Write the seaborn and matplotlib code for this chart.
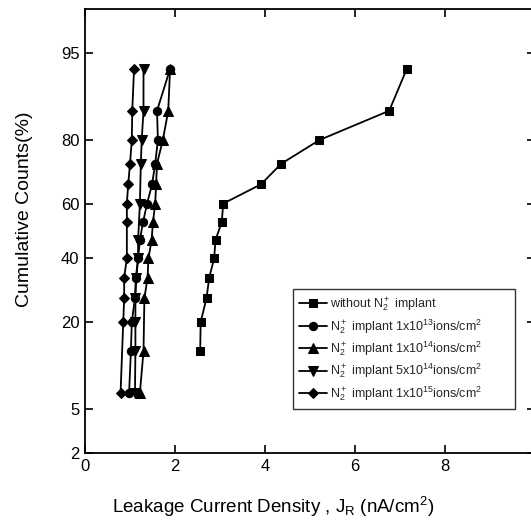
import numpy as np
import pandas as pd
import seaborn as sns
import matplotlib
matplotlib.use("Agg")
import matplotlib.pyplot as plt
from matplotlib.ticker import FixedLocator, FixedFormatter
from statistics import NormalDist

# ---------------- data ----------------
without_y = [93.3, 86.7, 80.0, 73.3, 66.7, 60.0, 53.3, 46.7, 40.0, 33.3, 26.7, 20.0, 13.3]
without_x = [7.15, 6.76, 5.21, 4.36, 3.91, 3.07, 3.04, 2.90, 2.87, 2.76, 2.70, 2.57, 2.56]

e13_y = [93.3, 86.7, 80.0, 73.3, 66.7, 60.0, 53.3, 46.7, 40.0, 33.3, 26.7, 20.0, 13.3, 6.7]
e13_x = [1.89, 1.60, 1.62, 1.56, 1.49, 1.38, 1.29, 1.22, 1.18, 1.13, 1.11, 1.04, 1.02, 0.98]

e14_y = [93.3, 86.7, 80.0, 73.3, 66.7, 60.0, 53.3, 46.7, 40.0, 33.3, 26.7, 13.3, 6.7]
e14_x = [1.89, 1.85, 1.73, 1.60, 1.58, 1.56, 1.51, 1.48, 1.41, 1.39, 1.32, 1.30, 1.22]

e5x14_y = [93.3, 86.7, 80.0, 73.3, 60.0, 46.7, 40.0, 33.3, 26.7, 20.0, 13.3, 6.7]
e5x14_x = [1.30, 1.30, 1.26, 1.24, 1.22, 1.18, 1.18, 1.14, 1.12, 1.12, 1.12, 1.11]

e15_y = [93.3, 86.7, 80.0, 73.3, 66.7, 60.0, 53.3, 40.0, 33.3, 26.7, 20.0, 6.7]
e15_x = [1.09, 1.05, 1.04, 1.00, 0.96, 0.93, 0.93, 0.93, 0.87, 0.87, 0.85, 0.79]

labels = [
    r"without N$_2^+$ implant",
    r"N$_2^+$ implant 1x10$^{13}$ions/cm$^2$",
    r"N$_2^+$ implant 1x10$^{14}$ions/cm$^2$",
    r"N$_2^+$ implant 5x10$^{14}$ions/cm$^2$",
    r"N$_2^+$ implant 1x10$^{15}$ions/cm$^2$",
]
markers = ["s", "o", "^", "v", "D"]

y_ticks = [2, 5, 20, 40, 60, 80, 95]
x_ticks = [0, 2, 4, 6, 8]

# ---------------- style ----------------
sns.set_theme(style="white")
plt.rcParams["font.family"] = ["Liberation Sans", "DejaVu Sans"]
plt.rcParams["mathtext.default"] = "regular"
plt.rcParams["xtick.direction"] = "in"
plt.rcParams["ytick.direction"] = "in"

nd = NormalDist()


def fwd(p):
    p = np.clip(np.asarray(p, dtype=float), 1e-6, 100 - 1e-6)
    return np.vectorize(lambda v: nd.inv_cdf(v / 100.0))(p) if p.size else p


def inv(z):
    z = np.asarray(z, dtype=float)
    return np.vectorize(lambda v: nd.cdf(v) * 100.0)(z) if z.size else z


fig = plt.figure(figsize=(5.31, 5.21), dpi=100)
ax = fig.add_axes([85 / 531, 68 / 521, 450 / 531, 444 / 521])
ax.set_yscale("function", functions=(fwd, inv))

series = [
    (without_x, without_y),
    (e13_x, e13_y),
    (e14_x, e14_y),
    (e5x14_x, e5x14_y),
    (e15_x, e15_y),
]
sizes = {"s": 5.5, "o": 6, "^": 6.5, "v": 6.5, "D": 5.5}

for (xs, ys), lab, mk in zip(series, labels, markers):
    df = pd.DataFrame({"x": xs, "y": ys})
    sns.lineplot(data=df, x="x", y="y", ax=ax, sort=False, estimator=None,
                 color="black", marker=mk, markersize=sizes[mk], markeredgecolor="black",
                 markerfacecolor="black", linewidth=1.3, label=lab)

ax.set_xlim(0, 10)
ax.set_ylim(2, 98)
ax.yaxis.set_major_locator(FixedLocator(y_ticks))
ax.yaxis.set_major_formatter(FixedFormatter([str(t) for t in y_ticks]))
ax.yaxis.set_minor_locator(FixedLocator([]))
ax.xaxis.set_major_locator(FixedLocator(x_ticks))
ax.xaxis.set_major_formatter(FixedFormatter([str(t) for t in x_ticks]))

ax.tick_params(axis="both", which="major", direction="in", length=6, width=1.2,
               labelsize=12, color="black", labelcolor="black",
               top=True, right=True, left=True, bottom=True, pad=4)

for sp in ax.spines.values():
    sp.set_visible(True)
    sp.set_color("black")
    sp.set_linewidth(1.3)

ax.set_xlabel(r"Leakage Current Density , J$_R$ (nA/cm$^2$)", fontsize=13.5, color="black")
ax.set_ylabel("Cumulative Counts(%)", fontsize=14, color="black")
ax.xaxis.set_label_coords(0.418, -0.095)
ax.yaxis.set_label_coords(-0.115, 0.55)

x0 = (293 - 85) / 450
w = 222 / 450
ytop = (453 - 289) / 444
ybot = (453 - 407) / 444
leg = ax.legend(loc="upper left", bbox_to_anchor=(x0, ybot, w, ytop - ybot), mode="expand",
                fontsize=9, frameon=True, fancybox=False, edgecolor="black",
                handlelength=2.2, labelspacing=0.28, borderpad=0.5, handletextpad=0.3,
                borderaxespad=0.0)
leg.get_frame().set_linewidth(1.0)

ax.grid(False)
fig.savefig("out.png", dpi=100)
